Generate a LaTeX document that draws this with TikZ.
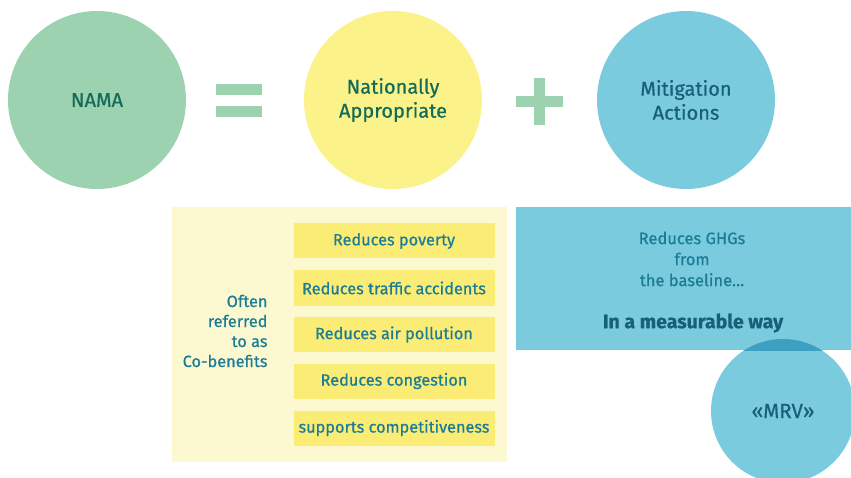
\documentclass[tikz,border=0pt]{standalone}
\usepackage{fontspec}
\setmainfont{Fira Sans}[FakeBold=0.6]
\definecolor{cgreen}{HTML}{9DD2B1}
\definecolor{cyellow}{HTML}{FBF28A}
\definecolor{cblue}{HTML}{7ACBDD}
\definecolor{cblueD}{HTML}{3DA0C0}
\definecolor{cpale}{HTML}{FCF9D0}
\definecolor{cbox}{HTML}{FAEC74}
\definecolor{tgreen}{HTML}{136B58}
\definecolor{tblue}{HTML}{185F78}
\definecolor{tteal}{HTML}{1B7C96}
\begin{document}
\begin{tikzpicture}[x=1pt,y=-1pt,
  bigc/.style={circle,minimum size=178pt,inner sep=0pt,align=center,font=\fontsize{20}{24}\selectfont},
  benefit/.style={rectangle,fill=cbox,minimum width=201pt,minimum height=35pt,inner sep=0pt,text=tteal,font=\fontsize{16.3}{19}\selectfont},
  bar/.style={fill=cgreen}]
\useasboundingbox (0,0) rectangle (851,478);
\node[bigc,fill=cgreen,text=tgreen] (nama) at (97,100) {NAMA};
\node[bigc,fill=cyellow,text=tgreen] (na) at (393,100) {Nationally\\Appropriate};
\node[bigc,fill=cblue,text=tblue] (ma) at (686,100) {Mitigation\\Actions};
% equals
\fill[bar] (216,84) rectangle (262,95);
\fill[bar] (216,106) rectangle (262,117);
% plus
\fill[bar] (516,96) rectangle (563,107);
\fill[bar] (534,78) rectangle (545,125);
% co-benefits panel
\node[rectangle,fill=cpale,minimum width=335pt,minimum height=255pt,inner sep=0pt] (panel) at (339,334.5) {};
\node[benefit] (b1) at (394,241) {Reduces poverty};
\node[benefit] (b2) at (394,288) {Reduces traffic accidents};
\node[benefit] (b3) at (394,334.5) {Reduces air pollution};
\node[benefit] (b4) at (394,381) {Reduces congestion};
\node[benefit] (b5) at (394,428) {supports competitiveness};
\node[align=right,anchor=east,text=tteal,font=\fontsize{16.3}{20}\selectfont] (often) at (271,331) {Often\\referred\\to as\\Co-benefits};
% GHG panel
\node[rectangle,fill=cblue,minimum width=335pt,minimum height=143pt,inner sep=0pt] (ghg) at (683.5,278.5) {};
\node[circle,fill=cblue,minimum size=144pt,inner sep=0pt] (mrv) at (783,411) {};
\begin{scope}
\clip (516,207) rectangle (851,350);
\fill[cblueD] (mrv.center) circle (72pt);
\end{scope}
\node[text=tblue,font=\fontsize{20.5}{24}\selectfont] (mrvt) at (783,411) {«MRV»};
\node[align=center,text=tteal,font=\fontsize{16.5}{21}\selectfont] (ghgt) at (692,259) {Reduces GHGs\\from\\the baseline…};
\node[text=tblue,font=\bfseries\fontsize{19.5}{23}\selectfont] (meas) at (693,323) {In a measurable way};
\end{tikzpicture}
\end{document}
